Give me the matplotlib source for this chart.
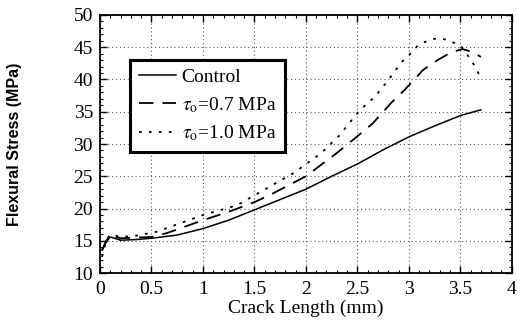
import matplotlib
matplotlib.use('Agg')
import matplotlib.pyplot as plt
from matplotlib.ticker import MultipleLocator

plt.rcParams['font.family'] = ['Liberation Serif', 'DejaVu Serif']
plt.rcParams['mathtext.fontset'] = 'stix'

# data
control_x = [0.02, 0.06, 0.1, 0.2, 0.35, 0.5, 0.75, 1.0, 1.25, 1.5, 1.75, 2.0, 2.25, 2.5, 2.75, 3.0, 3.25, 3.5, 3.7]
control_y = [13.6, 14.8, 15.6, 15.1, 15.2, 15.4, 15.9, 16.9, 18.2, 19.8, 21.4, 23.0, 25.0, 26.9, 29.1, 31.1, 32.8, 34.4, 35.3]

tau07_x = [0.02, 0.06, 0.1, 0.2, 0.35, 0.5, 0.65, 1.0, 1.25, 1.5, 1.65, 2.0, 2.3, 2.5, 2.65, 2.83, 2.96, 3.14, 3.28, 3.41, 3.52, 3.61, 3.7]
tau07_y = [13.5, 15.0, 15.9, 15.4, 15.5, 15.6, 16.2, 18.2, 19.5, 21.0, 22.1, 25.0, 28.6, 31.2, 33.2, 36.4, 38.4, 41.5, 43.0, 44.2, 44.7, 44.3, 43.5]

tau10_x = [0.02, 0.06, 0.1, 0.2, 0.35, 0.55, 1.0, 1.33, 1.55, 1.88, 2.15, 2.33, 2.52, 2.67, 2.8, 2.93, 3.01, 3.09, 3.17, 3.25, 3.33, 3.41, 3.51, 3.61, 3.66, 3.7]
tau10_y = [12.5, 15.0, 16.0, 15.6, 15.8, 16.4, 19.0, 20.5, 22.5, 25.5, 28.6, 31.4, 35.2, 37.3, 39.9, 42.7, 43.9, 45.3, 45.9, 46.3, 46.3, 45.9, 45.1, 42.9, 41.5, 40.2]

labels = ['Control', r'$\tau_{\rm o}$=0.7 MPa', r'$\tau_{\rm o}$=1.0 MPa']
xtick_labels = ['0', '0.5', '1', '1.5', '2', '2.5', '3', '3.5', '4']

fig = plt.figure(figsize=(5.18, 3.24), dpi=100)
ax = fig.add_axes([0.193, 0.157, 0.795, 0.797])

ax.plot(control_x, control_y, color='black', lw=1.1, ls='-', label=labels[0])
ax.plot(tau07_x, tau07_y, color='black', lw=1.3, ls=(0, (8, 5)), label=labels[1])
ax.plot(tau10_x, tau10_y, color='black', lw=1.3, ls=(0, (1.5, 4)), label=labels[2])

ax.set_xlim(0, 4)
ax.set_ylim(10, 50)
ax.set_xticks([0, 0.5, 1, 1.5, 2, 2.5, 3, 3.5, 4])
ax.set_xticklabels(xtick_labels)
ax.xaxis.set_minor_locator(MultipleLocator(0.1))
ax.yaxis.set_major_locator(MultipleLocator(5))
ax.yaxis.set_minor_locator(MultipleLocator(1))

ax.tick_params(which='both', direction='in', top=True, right=True, labelsize=14)
ax.tick_params(which='major', length=5, width=1)
ax.tick_params(axis='x', which='major', pad=6)
ax.tick_params(axis='y', which='major', pad=5)
ax.tick_params(which='minor', length=2.5, width=0.8)
for s in ax.spines.values():
    s.set_linewidth(1.3)

ax.grid(True, which='major', color='#555555', ls=(0, (1, 2.5)), lw=0.8)

ax.set_xlabel('Crack Length (mm)', fontsize=14, labelpad=1)
ax.set_ylabel('Flexural Stress (MPa)', fontsize=11.5, fontweight='bold',
              family=['Liberation Sans Narrow', 'Liberation Sans', 'DejaVu Sans'])
ax.yaxis.set_label_coords(-0.19, 0.5)

leg = ax.legend(loc='upper left', bbox_to_anchor=(0.073, 0.826), fontsize=14,
                handlelength=1.9, handletextpad=0.3, borderpad=0.45, labelspacing=0.45,
                borderaxespad=0, fancybox=False, framealpha=1, edgecolor='black')
leg.get_frame().set_linewidth(2.2)

fig.savefig('out.png', dpi=100)
